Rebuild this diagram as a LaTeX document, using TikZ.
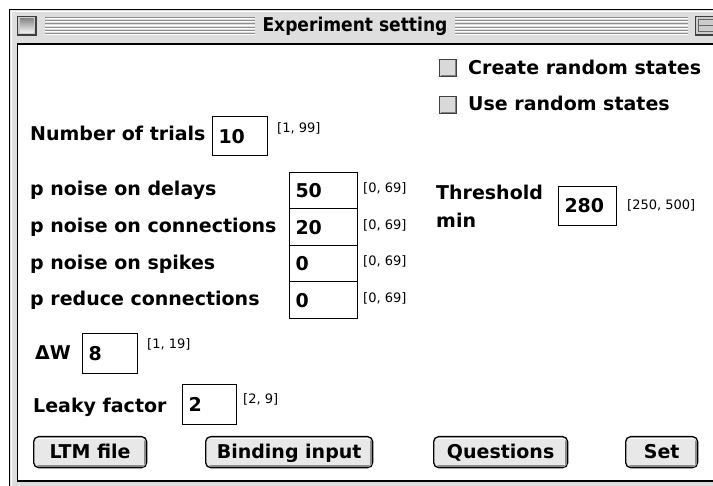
\documentclass[tikz,border=0pt]{standalone}
\usepackage{fontspec}
\setmainfont{DejaVu Sans}
\newfontfamily\condfont{DejaVu Sans Condensed}
\begin{document}
\begin{tikzpicture}[x=1pt,y=-1pt,
  lbl/.style={font=\fontsize{19}{21}\selectfont\bfseries, inner sep=0pt, anchor=base west},
  rng/.style={font=\fontsize{13}{15}\selectfont, inner sep=0pt, anchor=base west},
  field/.style={draw=black, line width=1pt, fill=white, anchor=north west, inner xsep=6pt, inner ysep=0pt,
     align=left, font=\fontsize{19}{21}\selectfont\bfseries},
  btn/.style={draw=black, line width=1.3pt, fill=black!9, rounded corners=5pt, anchor=north west,
     inner sep=0pt, text height=13pt, text depth=0pt, font=\fontsize{19}{21}\selectfont\bfseries},
  chk/.style={draw=black!75, line width=1pt, fill=black!15, minimum size=17pt, inner sep=0pt, anchor=north west},
  stripe/.style={draw=black!45, line width=0.9pt},
  hl/.style={draw=white, line width=0.9pt}
]
\useasboundingbox (0,0) rectangle (713,486);
\clip (0,0) rectangle (713,486);
\fill[white] (0,0) rectangle (713,486);
% window frame
\fill[black!13] (9,9) rectangle (720,490);
\draw[black, line width=1.3pt] (9.5,490) -- (9.5,9.5) -- (720,9.5);
\draw[white, line width=0.8pt] (11,490) -- (11,11) -- (720,11);
% content area
\filldraw[fill=white, draw=black, line width=1.6pt] (17.5,44) rectangle (730,481);
% close box
\draw[black!75, line width=1.5pt, fill=black!20] (17.5,16.5) rectangle (36,35);
\shade[top color=black!45, bottom color=black!5] (20,19) rectangle (33.5,32.5);
% stripes
\foreach \i in {0,...,5} {
  \draw[stripe] (45,17.5+3.2*\i) -- (255,17.5+3.2*\i);
  \draw[hl] (45,18.7+3.2*\i) -- (255,18.7+3.2*\i);
  \draw[stripe] (455,17.5+3.2*\i) -- (688,17.5+3.2*\i);
  \draw[hl] (455,18.7+3.2*\i) -- (688,18.7+3.2*\i);
}
% zoom box
\draw[black!75, line width=1.5pt, fill=black!20] (695.5,16.5) rectangle (725,35);
\draw[black!60, line width=1pt] (698.5,19.5) rectangle (725,32);
\draw[black!60, line width=1pt] (698.5,25.8) -- (725,25.8);
% title
\node[font=\fontsize{19}{21}\selectfont\condfont\bfseries, inner sep=0pt, anchor=base] (title) at (355,32) {Experiment setting};

% checkboxes
\node[chk] (cb1) at (439,59) {};
\draw[black!50, line width=1pt] ([xshift=1.5pt,yshift=1.5pt]cb1.south west) -- ([xshift=-1.5pt,yshift=1.5pt]cb1.south east) -- ([xshift=-1.5pt,yshift=-1.5pt]cb1.north east);
\node[lbl] (t_cb1) at (468,75) {Create random states};
\node[chk] (cb2) at (439,96) {};
\draw[black!50, line width=1pt] ([xshift=1.5pt,yshift=1.5pt]cb2.south west) -- ([xshift=-1.5pt,yshift=1.5pt]cb2.south east) -- ([xshift=-1.5pt,yshift=-1.5pt]cb2.north east);
\node[lbl] (t_cb2) at (468,111) {Use random states};

% number of trials
\node[lbl] (l_trials) at (30,141) {Number of trials};
\node[field, text width=43pt, minimum height=39pt] (f_trials) at (212,116.5) {10};
\node[rng] (r_trials) at (277,133) {[1, 99]};

% p rows
\node[lbl] (l_delay) at (30,196) {p noise on delays};
\node[lbl] (l_conn) at (30,233) {p noise on connections};
\node[lbl] (l_spike) at (30,270) {p noise on spikes};
\node[lbl] (l_red) at (30,306) {p reduce connections};
\node[field, text width=56pt, minimum height=36.5pt] (f_delay) at (289,172) {50};
\node[field, text width=56pt, minimum height=36.5pt] (f_conn) at (289,208.5) {20};
\node[field, text width=56pt, minimum height=36.5pt] (f_spike) at (289,245) {0};
\node[field, text width=56pt, minimum height=36.5pt] (f_red) at (289,281.5) {0};
\node[rng] (r_delay) at (363,193) {[0, 69]};
\node[rng] (r_conn) at (363,230) {[0, 69]};
\node[rng] (r_spike) at (363,266) {[0, 69]};
\node[rng] (r_red) at (363,303) {[0, 69]};

% threshold
\node[lbl] (l_thr1) at (436,200) {Threshold};
\node[lbl] (l_thr2) at (436,228) {min};
\node[field, text width=46pt, minimum height=39pt] (f_thr) at (558,186) {280};
\node[rng] (r_thr) at (627,210) {[250, 500]};

% delta W
\node[lbl] (l_dw) at (35,360) {ΔW};
\node[field, text width=43pt, minimum height=40pt] (f_dw) at (82,333) {8};
\node[rng] (r_dw) at (147,349) {[1, 19]};

% leaky
\node[lbl] (l_leak) at (33,413) {Leaky factor};
\node[field, text width=42pt, minimum height=40pt] (f_leak) at (182,384) {2};
\node[rng] (r_leak) at (243,404) {[2, 9]};

% buttons
\foreach \nm/\xa/\w/\txt in {b_ltm/33/113/LTM file, b_bind/205/167/Binding input, b_q/433/134/Questions, b_set/625/72/Set} {
  \node[btn, minimum width=\w pt, minimum height=31pt] (\nm) at (\xa,436) {\txt};
  \draw[black!45, line width=1.4pt, line cap=round] ([xshift=5pt,yshift=2.2pt]\nm.south west) -- ([xshift=-4pt,yshift=2.2pt]\nm.south east);
  \draw[black!45, line width=1.4pt, line cap=round] ([xshift=-2.2pt,yshift=4pt]\nm.south east) -- ([xshift=-2.2pt,yshift=-5pt]\nm.north east);
  \draw[white, line width=1.2pt, line cap=round] ([xshift=5pt,yshift=-2.2pt]\nm.north west) -- ([xshift=-5pt,yshift=-2.2pt]\nm.north east);
}
\end{tikzpicture}
\end{document}
